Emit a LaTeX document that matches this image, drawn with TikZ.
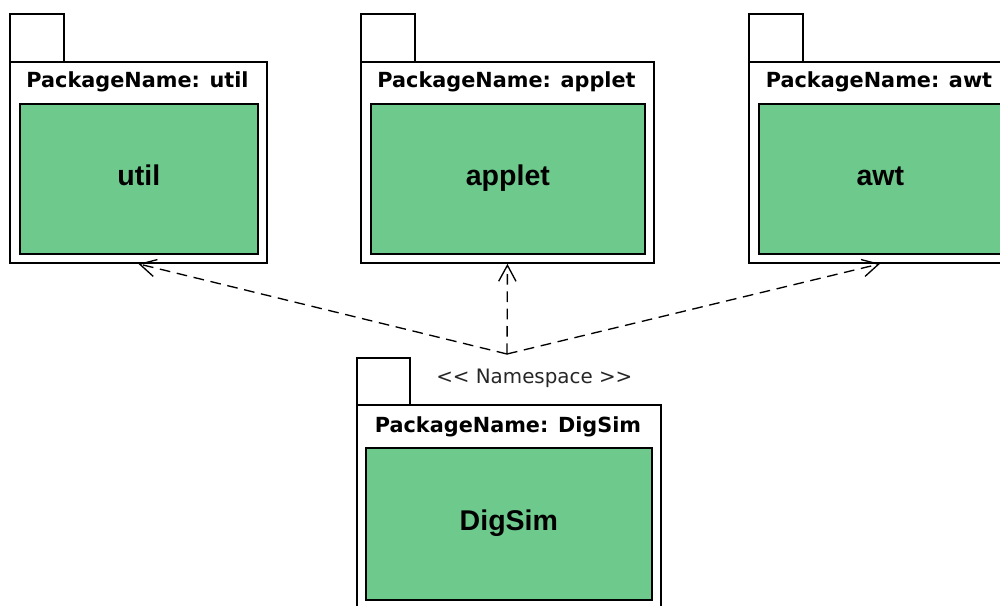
\documentclass[tikz,border=0pt]{standalone}
\usepackage{fontspec}
\setmainfont{Liberation Sans}
\newfontfamily\hdrfont{DejaVu Sans}
\usetikzlibrary{arrows.meta,positioning}
\definecolor{pkggreen}{RGB}{110,202,140}

\begin{document}
\begin{tikzpicture}[x=0.75pt,y=-0.75pt,
    pkgtab/.style={draw, line width=1.4pt, fill=white, anchor=north west, inner sep=0pt, minimum width=40.5pt, minimum height=36pt},
    pkgbox/.style={draw, line width=1.4pt, fill=white, anchor=north west, inner sep=0pt},
    pkginner/.style={draw, line width=1.3pt, fill=pkggreen, anchor=north west, inner sep=0pt, text height=10.5pt, text depth=0pt, font=\bfseries\fontsize{21.4}{24}\selectfont},
    pkghdr/.style={anchor=base, inner sep=0pt, font=\hdrfont\bfseries\fontsize{15.6}{18}\selectfont},
    dep/.style={line width=1pt, dash pattern=on 8pt off 5pt, -{Straight Barb[length=12pt,width=13pt]}}]
    \useasboundingbox (0,0) rectangle (1000,606);
    \clip (0,0) rectangle (1000,606);

    % Imported packages
    \foreach \p/\x/\w in {util/9/257, applet/360/293, awt/748/262} {
        \node[pkgtab] (tab\p) at (\x,13) {};
        \node[pkgbox, minimum width={0.75pt*\w}, minimum height=150.75pt] (box\p) at (\x,61) {};
        \node[pkghdr] (hdr\p) at ({\x+\w/2},87.5) {PackageName: \p};
        \node[pkginner, minimum width={0.75pt*(\w-19)}, minimum height=112.5pt] (in\p) at ({\x+10},103) {\p};
    }

    % Namespace package
    \node[pkgtab, minimum width=39.75pt, minimum height=35.25pt] (tabdig) at (356,357) {};
    \node[pkgbox, minimum width=228pt, minimum height=165pt] (boxdig) at (356,404) {};
    \node[pkghdr] (hdrdig) at (508,432) {PackageName: DigSim};
    \node[pkginner, minimum width=214.5pt, minimum height=114pt] (indig) at (365,447) {DigSim};
    \node[anchor=base west, inner sep=0pt, text=black!85, font=\hdrfont\fontsize{14.9}{17}\selectfont] (nslabel) at (436,383) {<\kern0pt< Namespace >\kern0pt>};

    % Dependencies
    \coordinate (ns) at (507,354);
    \foreach \p in {util,applet,awt} {
        \draw[dep] (ns) -- (box\p.south);
    }
\end{tikzpicture}
\end{document}
